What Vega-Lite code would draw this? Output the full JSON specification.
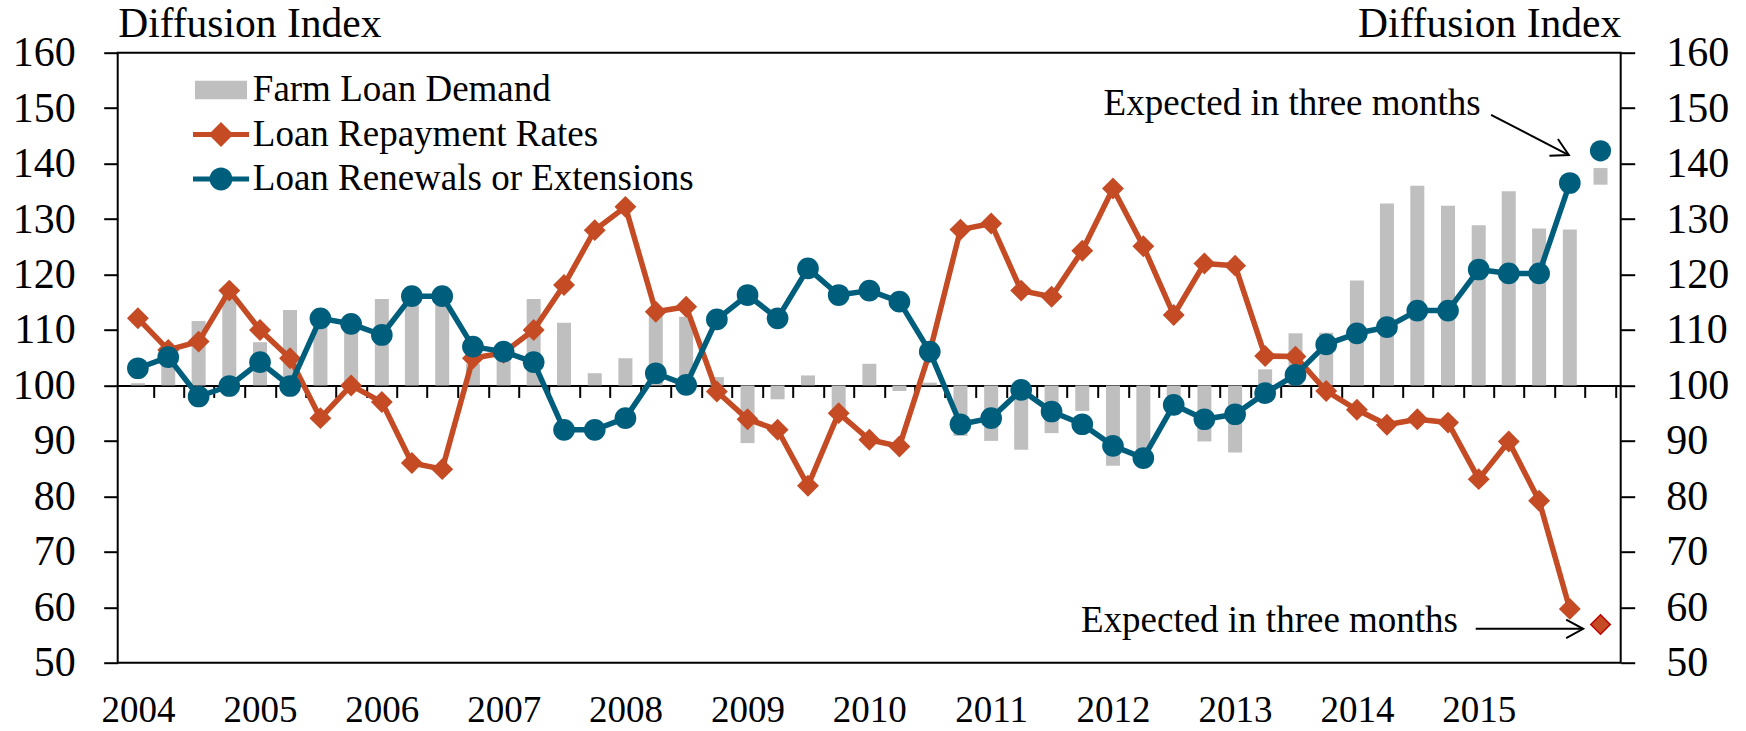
{
  "$schema": "https://vega.github.io/schema/vega-lite/v6.json",
  "width": 1503,
  "height": 610,
  "autosize": {"type": "none"},
  "padding": {"left": 117.7, "top": 52.7, "right": 125.3, "bottom": 68.3},
  "background": "white",
  "config": {
    "view": {"stroke": "black", "strokeWidth": 2},
    "font": "Liberation Serif",
    "axis": {"labelFont": "Liberation Serif", "titleFont": "Liberation Serif", "labelColor": "black", "titleColor": "black", "domainColor": "black", "tickColor": "black", "grid": false, "titleFontWeight": "normal"},
    "text": {"font": "Liberation Serif"}
  },
  "datasets": {
    "survey": [
      {"date": "2004-01-01", "demand": 100.4, "repayment": 112.1, "renewals": 103.1},
      {"date": "2004-04-01", "demand": 105.5, "repayment": 106.4, "renewals": 105.1},
      {"date": "2004-07-01", "demand": 111.6, "repayment": 107.9, "renewals": 98.0},
      {"date": "2004-10-01", "demand": 116.5, "repayment": 117.1, "renewals": 99.9},
      {"date": "2005-01-01", "demand": 107.8, "repayment": 110.0, "renewals": 104.2},
      {"date": "2005-04-01", "demand": 113.6, "repayment": 104.9, "renewals": 99.9},
      {"date": "2005-07-01", "demand": 113.0, "repayment": 94.1, "renewals": 112.1},
      {"date": "2005-10-01", "demand": 110.5, "repayment": 100.0, "renewals": 111.1},
      {"date": "2006-01-01", "demand": 115.6, "repayment": 97.0, "renewals": 109.1},
      {"date": "2006-04-01", "demand": 116.0, "repayment": 86.0, "renewals": 116.1},
      {"date": "2006-07-01", "demand": 115.5, "repayment": 84.9, "renewals": 116.1},
      {"date": "2006-10-01", "demand": 103.9, "repayment": 104.9, "renewals": 107.0},
      {"date": "2007-01-01", "demand": 106.0, "repayment": 105.9, "renewals": 106.1},
      {"date": "2007-04-01", "demand": 115.6, "repayment": 110.0, "renewals": 104.2},
      {"date": "2007-07-01", "demand": 111.3, "repayment": 118.1, "renewals": 92.0},
      {"date": "2007-10-01", "demand": 102.2, "repayment": 128.0, "renewals": 92.0},
      {"date": "2008-01-01", "demand": 104.9, "repayment": 132.2, "renewals": 94.1},
      {"date": "2008-04-01", "demand": 112.7, "repayment": 113.3, "renewals": 102.2},
      {"date": "2008-07-01", "demand": 112.4, "repayment": 114.2, "renewals": 100.1},
      {"date": "2008-10-01", "demand": 101.5, "repayment": 98.9, "renewals": 111.9},
      {"date": "2009-01-01", "demand": 89.6, "repayment": 93.9, "renewals": 116.3},
      {"date": "2009-04-01", "demand": 97.5, "repayment": 92.0, "renewals": 112.1},
      {"date": "2009-07-01", "demand": 101.8, "repayment": 81.9, "renewals": 121.1},
      {"date": "2009-10-01", "demand": 95.0, "repayment": 95.0, "renewals": 116.3},
      {"date": "2010-01-01", "demand": 103.9, "repayment": 90.2, "renewals": 117.1},
      {"date": "2010-04-01", "demand": 99.0, "repayment": 89.0, "renewals": 115.1},
      {"date": "2010-07-01", "demand": 100.5, "repayment": 106.0, "renewals": 106.1},
      {"date": "2010-10-01", "demand": 90.9, "repayment": 128.1, "renewals": 93.0},
      {"date": "2011-01-01", "demand": 90.0, "repayment": 129.2, "renewals": 94.1},
      {"date": "2011-04-01", "demand": 88.4, "repayment": 117.1, "renewals": 99.2},
      {"date": "2011-07-01", "demand": 91.4, "repayment": 116.0, "renewals": 95.3},
      {"date": "2011-10-01", "demand": 95.4, "repayment": 124.3, "renewals": 93.0},
      {"date": "2012-01-01", "demand": 85.5, "repayment": 135.5, "renewals": 89.1},
      {"date": "2012-04-01", "demand": 87.0, "repayment": 125.1, "renewals": 86.9},
      {"date": "2012-07-01", "demand": 97.0, "repayment": 112.7, "renewals": 96.5},
      {"date": "2012-10-01", "demand": 89.9, "repayment": 122.0, "renewals": 93.9},
      {"date": "2013-01-01", "demand": 87.9, "repayment": 121.6, "renewals": 94.8},
      {"date": "2013-04-01", "demand": 102.9, "repayment": 105.3, "renewals": 98.6},
      {"date": "2013-07-01", "demand": 109.4, "repayment": 105.2, "renewals": 101.9},
      {"date": "2013-10-01", "demand": 109.5, "repayment": 99.0, "renewals": 107.4},
      {"date": "2014-01-01", "demand": 118.9, "repayment": 95.6, "renewals": 109.4},
      {"date": "2014-04-01", "demand": 132.8, "repayment": 92.9, "renewals": 110.5},
      {"date": "2014-07-01", "demand": 136.0, "repayment": 93.9, "renewals": 113.5},
      {"date": "2014-10-01", "demand": 132.4, "repayment": 93.3, "renewals": 113.5},
      {"date": "2015-01-01", "demand": 128.9, "repayment": 83.1, "renewals": 120.9},
      {"date": "2015-04-01", "demand": 135.0, "repayment": 89.9, "renewals": 120.2},
      {"date": "2015-07-01", "demand": 128.3, "repayment": 79.2, "renewals": 120.2},
      {"date": "2015-10-01", "demand": 128.1, "repayment": 59.7, "renewals": 136.5}
    ],
    "expected": [
      {"date": "2016-01-01", "demand": 139.2, "demand_low": 136.2, "repayment": 56.9, "renewals": 142.3}
    ],
    "notes": [
      {"date": "2015-01-07", "value": 148.8, "label": "Expected in three months"},
      {"date": "2014-10-31", "value": 55.6, "label": "Expected in three months"}
    ],
    "arrows": [
      {"id": "upper", "start": "2015-02-07", "from": 148.8, "end": "2015-09-28", "to": 141.55},
      {"id": "lower", "start": "2014-12-23", "from": 56.1, "end": "2015-11-10", "to": 56.1}
    ]
  },
  "resolve": {"axis": {"x": "independent", "y": "independent"}},
  "layer": [
    {
      "data": {"name": "survey"},
      "mark": {"type": "bar", "size": 14},
      "encoding": {
        "x": {
          "field": "date", "type": "temporal",
          "scale": {"type": "utc", "domain": [{"year": 2003, "month": 11, "date": 16, "hours": 12, "utc": true}, {"year": 2016, "month": 2, "date": 15, "hours": 12, "utc": true}]},
          "axis": {
            "orient": "bottom", "title": null, "format": "%Y", "formatType": "utc",
            "values": [{"year": 2004, "utc": true}, {"year": 2005, "utc": true}, {"year": 2006, "utc": true}, {"year": 2007, "utc": true}, {"year": 2008, "utc": true}, {"year": 2009, "utc": true}, {"year": 2010, "utc": true}, {"year": 2011, "utc": true}, {"year": 2012, "utc": true}, {"year": 2013, "utc": true}, {"year": 2014, "utc": true}, {"year": 2015, "utc": true}],
            "domain": false, "ticks": false, "tickSize": 0, "labelFontSize": 37, "labelPadding": 58.5, "labelBaseline": "alphabetic", "labelFlush": false, "labelOverlap": false
          }
        },
        "y": {
          "field": "demand", "type": "quantitative",
          "scale": {"domain": [50, 160], "nice": false, "zero": false},
          "axis": {
            "orient": "left", "values": [50, 60, 70, 80, 90, 100, 110, 120, 130, 140, 150, 160],
            "domain": false, "tickSize": 14, "tickWidth": 2, "labelFontSize": 42, "labelPadding": 28.5, "labelFlush": false,
            "title": "Diffusion Index", "titleAngle": 0, "titleAlign": "left", "titleBaseline": "alphabetic", "titleX": 0, "titleY": -16, "titleFontSize": 41.5
          }
        },
        "y2": {"datum": 100},
        "color": {
          "datum": "demand",
          "scale": {"domain": ["demand", "repayment", "renewals"], "range": ["#BFBFBF", "#C44B24", "#005E7D"]},
          "legend": {
            "orient": "none", "legendX": 83.3, "legendY": 17.3, "title": null, "direction": "vertical",
            "symbolSize": 1600, "symbolStrokeWidth": 0, "labelFont": "Liberation Serif", "labelFontSize": 37, "labelColor": "black",
            "labelOffset": 11.8, "labelLimit": 1000, "rowPadding": 6.5, "padding": 0,
            "labelExpr": "datum.value == 'demand' ? 'Farm Loan Demand' : datum.value == 'repayment' ? 'Loan Repayment Rates' : 'Loan Renewals or Extensions'",
            "encoding": {
              "symbols": {
                "shape": {"value": {"expr": "datum.value == 'demand' ? 'M-1.3,-0.46H1.3V0.46H-1.3Z' : datum.value == 'repayment' ? 'M-1.4,-0.12H1.4V0.12H-1.4Z M0,-0.62L0.62,0L0,0.62L-0.62,0Z' : 'M-1.4,-0.12H1.4V0.12H-1.4Z M-0.57,0A0.57,0.57 0 1,1 0.57,0A0.57,0.57 0 1,1 -0.57,0Z'"}},
                "fill": {"value": {"expr": "datum.value == 'demand' ? '#BFBFBF' : datum.value == 'repayment' ? '#C44B24' : '#005E7D'"}},
                "stroke": {"value": "transparent"},
                "strokeWidth": {"value": 0},
                "opacity": {"value": 1},
                "fillOpacity": {"value": 1}
              }
            }
          }
        }
      }
    },
    {
      "data": {"name": "expected"},
      "mark": {"type": "bar", "size": 14},
      "encoding": {
        "x": {"field": "date", "type": "temporal", "axis": null},
        "y": {"field": "demand", "type": "quantitative", "axis": null},
        "y2": {"field": "demand_low"},
        "color": {"datum": "demand"}
      }
    },
    {
      "data": {"name": "survey"},
      "mark": {"type": "line", "strokeWidth": 5.5, "strokeJoin": "round"},
      "encoding": {
        "x": {
          "field": "date", "type": "temporal",
          "axis": {"orient": "top", "offset": -332.73, "title": null, "labels": false, "domain": true, "domainWidth": 2, "domainColor": "black", "ticks": true, "tickSize": -12, "tickWidth": 2, "tickOffset": 15.33, "tickCount": {"interval": "month", "step": 3}, "grid": false}
        },
        "y": {"field": "repayment", "type": "quantitative", "axis": null},
        "color": {"datum": "repayment"}
      }
    },
    {
      "data": {"name": "survey"},
      "mark": {"type": "point", "shape": "diamond", "filled": true, "size": 480, "opacity": 1},
      "encoding": {
        "x": {"field": "date", "type": "temporal", "axis": null},
        "y": {"field": "repayment", "type": "quantitative", "axis": null},
        "color": {"datum": "repayment"}
      }
    },
    {
      "data": {"name": "survey"},
      "mark": {"type": "line", "strokeWidth": 5.5, "strokeJoin": "round"},
      "encoding": {
        "x": {"field": "date", "type": "temporal", "axis": null},
        "y": {
          "field": "renewals", "type": "quantitative",
          "axis": {
            "orient": "right", "values": [50, 60, 70, 80, 90, 100, 110, 120, 130, 140, 150, 160],
            "domain": false, "tickSize": 14, "tickWidth": 2, "labelFontSize": 42, "labelPadding": 31, "labelFlush": false,
            "title": "Diffusion Index", "titleAngle": 0, "titleAlign": "right", "titleBaseline": "alphabetic", "titleX": 0, "titleY": -16, "titleFontSize": 41.5
          }
        },
        "color": {"datum": "renewals"}
      }
    },
    {
      "data": {"name": "survey"},
      "mark": {"type": "point", "shape": "circle", "filled": true, "size": 470, "opacity": 1},
      "encoding": {
        "x": {"field": "date", "type": "temporal", "axis": null},
        "y": {"field": "renewals", "type": "quantitative", "axis": null},
        "color": {"datum": "renewals"}
      }
    },
    {
      "data": {"name": "expected"},
      "mark": {"type": "point", "shape": "diamond", "filled": true, "size": 380, "opacity": 1, "fill": "#C44B24", "stroke": "#C00000", "strokeWidth": 1.5},
      "encoding": {
        "x": {"field": "date", "type": "temporal", "axis": null},
        "y": {"field": "repayment", "type": "quantitative", "axis": null}
      }
    },
    {
      "data": {"name": "expected"},
      "mark": {"type": "point", "shape": "circle", "filled": true, "size": 450, "opacity": 1, "fill": "#005E7D"},
      "encoding": {
        "x": {"field": "date", "type": "temporal", "axis": null},
        "y": {"field": "renewals", "type": "quantitative", "axis": null}
      }
    },
    {
      "data": {"name": "notes"},
      "mark": {"type": "text", "align": "right", "baseline": "alphabetic", "fontSize": 37, "color": "black", "font": "Liberation Serif"},
      "encoding": {
        "x": {"field": "date", "type": "temporal", "axis": null},
        "y": {"field": "value", "type": "quantitative", "axis": null},
        "text": {"field": "label"}
      }
    },
    {
      "data": {"name": "arrows"},
      "mark": {"type": "rule", "color": "black", "strokeWidth": 2},
      "encoding": {
        "x": {"field": "start", "type": "temporal", "axis": null},
        "x2": {"field": "end"},
        "y": {"field": "from", "type": "quantitative", "axis": null},
        "y2": {"field": "to"}
      }
    },
    {
      "data": {"name": "arrows"},
      "transform": [{"filter": "datum.id == 'upper'"}],
      "mark": {"type": "point", "shape": "M-1,-0.55L0,0L-1,0.55", "filled": false, "stroke": "black", "strokeWidth": 2, "size": 1156, "angle": 27, "opacity": 1},
      "encoding": {
        "x": {"field": "end", "type": "temporal", "axis": null},
        "y": {"field": "to", "type": "quantitative", "axis": null}
      }
    },
    {
      "data": {"name": "arrows"},
      "transform": [{"filter": "datum.id == 'lower'"}],
      "mark": {"type": "point", "shape": "M-1,-0.55L0,0L-1,0.55", "filled": false, "stroke": "black", "strokeWidth": 2, "size": 1156, "angle": 0, "opacity": 1},
      "encoding": {
        "x": {"field": "end", "type": "temporal", "axis": null},
        "y": {"field": "to", "type": "quantitative", "axis": null}
      }
    }
  ]
}
